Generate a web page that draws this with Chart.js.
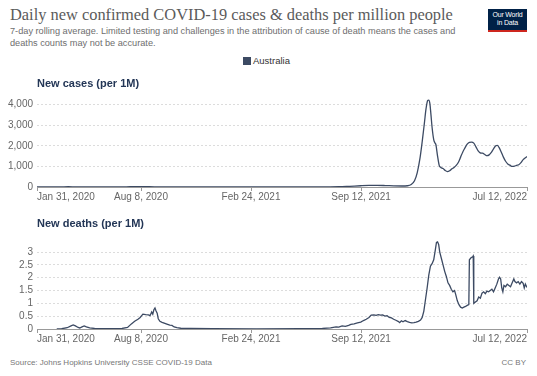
<!DOCTYPE html>
<html><head><meta charset="utf-8">
<script src="https://cdn.jsdelivr.net/npm/chart.js@4.4.1/dist/chart.umd.min.js"></script>
<style>
body{margin:0;width:537px;height:376px;background:#fff;position:relative;overflow:hidden;font-family:"Liberation Sans",Arial,sans-serif}
.abs{position:absolute;white-space:nowrap}
#title{left:10px;top:5px;font-family:"Liberation Serif","Times New Roman",serif;font-size:16.4px;color:#5b5b5b}
.sub{left:10px;font-size:9.2px;color:#6e6e6e}
#logo{left:488px;top:9px;width:39px;height:19px;background:#002147;border-bottom:2px solid #ce261e;color:#fff;font-size:7px;line-height:8px;text-align:center;padding-top:2px;letter-spacing:-0.2px}
#legsq{left:243px;top:57px;width:8px;height:8px;background:#3c4a63}
#legtx{left:253px;top:55px;font-size:9.5px;color:#333}
.ctitle{left:37px;font-size:11px;font-weight:bold;color:#233656}
canvas{position:absolute;left:0}
#src{left:10px;top:358px;font-size:8px;color:#777}
#cc{right:11px;top:358px;font-size:8px;color:#777}
</style></head>
<body>
<div id="title" class="abs">Daily new confirmed COVID-19 cases &amp; deaths per million people</div>
<div class="abs sub" style="top:26px">7-day rolling average. Limited testing and challenges in the attribution of cause of death means the cases and</div>
<div class="abs sub" style="top:38px">deaths counts may not be accurate.</div>
<div id="logo" class="abs">Our World<br>in Data</div>
<div id="legsq" class="abs"></div>
<div id="legtx" class="abs">Australia</div>
<canvas id="c1" width="537" height="119" style="top:88px"></canvas>
<canvas id="c2" width="537" height="121" style="top:228px"></canvas>
<div class="abs ctitle" style="top:77px">New cases (per 1M)</div>
<div class="abs ctitle" style="top:217px">New deaths (per 1M)</div>
<div id="src" class="abs">Source: Johns Hopkins University CSSE COVID-19 Data</div>
<div id="cc" class="abs">CC BY</div>
<script>
// Day index 0 = Jan 31, 2020 ; 893 = Jul 12, 2022
const tickDays = [0, 190, 390, 590, 893];
const tickLabels = ["Jan 31, 2020", "Aug 8, 2020", "Feb 24, 2021", "Sep 12, 2021", "Jul 12, 2022"];
const caseTicks = [0, 1000, 2000, 3000, 4000];
const deathTicks = [0, 0.5, 1, 1.5, 2, 2.5, 3];
const seriesName = "Australia";

const caseDays = [0,30,45,57,70,90,120,150,170,187,205,230,260,300,330,360,400,450,500,530,550,570,590,605,620,635,650,665,675,682,688,693,698,702,706,709,712,714,716,718,720,723,725,727,730,733,736,740,744,748,752,756,760,764,768,772,776,780,784,788,792,796,800,804,808,812,816,820,824,828,832,836,839,842,846,850,854,858,862,866,870,874,878,882,886,890,893];
const caseValues = [0,1,8,14,5,1,0.5,4,12,18,12,3,0.5,0.5,0.3,0.2,0.4,0.3,1,5,12,35,60,75,80,70,55,48,60,120,300,700,1400,2200,3100,3800,4200,4220,4050,3500,2900,2300,2150,2050,1500,1050,950,900,800,750,790,880,950,1050,1200,1450,1700,1900,2080,2170,2180,2130,1950,1750,1650,1640,1580,1520,1560,1680,1850,2000,2020,1920,1700,1450,1250,1120,1060,1000,1010,1050,1080,1180,1330,1420,1480];

const deathDays = [36,45,55,62,66,70,75,78,82,86,90,96,105,130,155,165,172,178,184,188,193,198,203,206,209,211,213,215,217,219,221,224,228,233,238,242,246,250,255,262,280,320,400,480,520,535,545,550,556,562,568,572,578,584,590,595,600,605,609,614,618,622,626,630,634,638,642,646,650,654,658,661,664,667,671,675,679,683,687,691,695,699,702,705,708,711,714,717,720,723,726,728,730,732,734,737,740,743,746,749,752,755,758,761,763,766,769,772,775,778,781,784,787,788,791,794,795,796,799,802,805,808,811,814,817,820,823,826,829,832,835,838,841,843,845,847,849,851,854,857,860,863,866,869,871,874,877,880,883,886,888,890,893];
const deathValues = [0,0.01,0.05,0.12,0.16,0.12,0.06,0.04,0.08,0.12,0.08,0.04,0.02,0.01,0.02,0.06,0.2,0.3,0.38,0.45,0.58,0.56,0.55,0.52,0.66,0.58,0.75,0.82,0.7,0.62,0.4,0.3,0.26,0.22,0.18,0.15,0.14,0.08,0.05,0.03,0.02,0.01,0.005,0.01,0.02,0.04,0.08,0.07,0.12,0.1,0.14,0.18,0.2,0.24,0.27,0.33,0.38,0.45,0.54,0.55,0.53,0.56,0.54,0.55,0.5,0.52,0.45,0.43,0.38,0.34,0.3,0.25,0.32,0.28,0.33,0.29,0.26,0.24,0.25,0.27,0.3,0.35,0.45,0.7,1.15,1.6,2.1,2.45,2.55,2.7,3.1,3.38,3.4,3.3,3.0,2.75,2.5,2.25,2.05,1.8,1.7,1.55,1.45,1.5,1.35,1.1,0.95,0.85,0.82,0.85,0.88,0.92,0.95,2.7,2.78,2.82,2.85,1.0,1.05,1.1,1.25,1.2,1.4,1.45,1.38,1.48,1.45,1.5,1.55,1.45,1.6,1.75,1.95,2.02,1.95,1.6,1.45,1.7,1.65,1.75,1.7,1.65,1.8,1.95,1.85,1.8,1.85,1.75,1.85,1.78,1.6,1.75,1.62];

const LINE = '#3c4a63';
const FONT = '"Liberation Sans", Arial, sans-serif';

const xLabelPlugin = {
  id: 'xlabels',
  afterDraw(chart) {
    const ctx = chart.ctx, xs = chart.scales.x, y = chart.chartArea.bottom;
    ctx.save();
    ctx.font = '10px ' + FONT;
    ctx.fillStyle = '#666';
    ctx.textBaseline = 'middle';
    ctx.strokeStyle = '#999';
    ctx.lineWidth = 1;
    tickDays.forEach((d, i) => {
      const px = Math.round(xs.getPixelForValue(d));
      ctx.textAlign = i === 0 ? 'left' : (i === tickDays.length - 1 ? 'right' : 'center');
      ctx.fillText(tickLabels[i], px, y + 10);
      ctx.beginPath(); ctx.moveTo(px + 0.5, y); ctx.lineTo(px + 0.5, y + 4); ctx.stroke();
    });
    ctx.restore();
  }
};

function makeChart(id, days, values, yTicks, yMax, fmt, smooth) {
  return new Chart(document.getElementById(id), {
    type: 'line',
    data: { datasets: [{ label: seriesName, data: days.map((d, i) => ({ x: d, y: values[i] })),
      borderColor: LINE, borderWidth: 1.3, pointRadius: 0, fill: false,
      cubicInterpolationMode: smooth ? 'monotone' : 'default', tension: 0 }] },
    options: {
      responsive: false, animation: false,
      layout: { padding: { top: 4, right: 10, left: 0, bottom: 0 } },
      plugins: { legend: { display: false }, tooltip: { enabled: false } },
      scales: {
        x: { type: 'linear', min: 0, max: 893,
          grid: { display: false }, border: { display: true, color: '#999' },
          ticks: { display: false },
          afterFit(s) { s.height = 20; } },
        y: { type: 'linear', min: 0, max: yMax,
          afterBuildTicks(s) { s.ticks = yTicks.map(v => ({ value: v })); },
          afterFit(s) { s.width = 37; },
          grid: { color: '#dcdcdc', drawTicks: false },
          border: { display: false, dash: [2, 2] },
          ticks: { padding: 4, color: '#666', font: { family: FONT, size: 10 }, callback: fmt } }
      }
    },
    plugins: [xLabelPlugin]
  });
}

makeChart('c1', caseDays, caseValues, caseTicks, 4320, v => v.toLocaleString('en-US'), true);
makeChart('c2', deathDays, deathValues, deathTicks, 3.55, v => String(v), false);
</script>
</body></html>
